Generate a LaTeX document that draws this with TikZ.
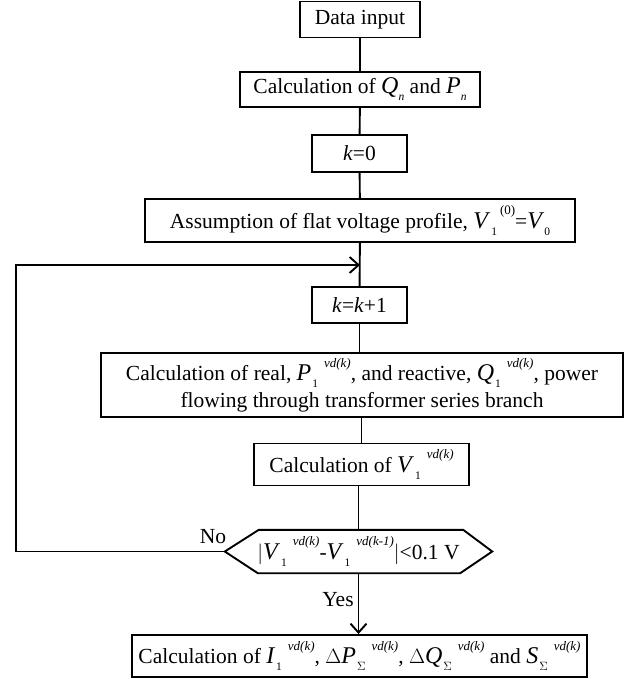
\documentclass[tikz,border=0pt]{standalone}
\usepackage{fontspec}
\setmainfont{Liberation Serif}
\usetikzlibrary{arrows.meta,calc}
\newcommand{\supf}{\fontsize{13}{13}\selectfont}
\newcommand{\subf}{\fontsize{11.5}{11.5}\selectfont}
\newcommand{\mlf}{\fontsize{24}{24}\selectfont}
\newcommand{\vsub}[3]{{\mlf\textit{#1}}\hspace{1pt}\raisebox{-0.7ex}{\subf #2}\hspace{6pt}\raisebox{1.35ex}{\supf\textit{#3}}}
\newcommand{\vsubonly}[2]{{\mlf\textit{#1}}\raisebox{-0.7ex}{\subf #2}}
\begin{document}
\begin{tikzpicture}[x=1pt,y=-1pt,
  font=\fontsize{21.5}{27}\selectfont,
  box/.style={draw,line width=1.9pt,inner sep=0pt,align=center},
  conn/.style={line width=1.9pt},
  arr/.style={line width=1.9pt,-{Straight Barb[length=9pt,width=16pt,line width=1.9pt]}}]
\useasboundingbox (0,0) rectangle (641,679);
\node[box,minimum width=120,minimum height=36] (b1) at (360,19.5) {Data input};
\node[box,minimum width=240,minimum height=35] (b2) at (360,89.5) {Calculation of \vsubonly{Q}{\textit{n}} and \vsubonly{P}{\textit{n}}};
\node[box,minimum width=95,minimum height=37] (b3) at (359.5,153.5) {\textit{k}=0};
\node[box,minimum width=430,minimum height=43] (b4) at (360,220.5) {Assumption of flat voltage profile, {\mlf\textit{V}}\hspace{1pt}\raisebox{-0.7ex}{\subf 1}\hspace{3pt}\raisebox{1.35ex}{\supf (0)}=\vsubonly{V}{0}};
\coordinate (j) at (360,265);
\node[box,minimum width=95,minimum height=36] (b5) at (359.5,305) {\textit{k}=\textit{k}+1};
\node[box,minimum width=522,minimum height=64] (b6) at (362,385) {Calculation of real, \vsub{P}{1}{vd(k)}, and reactive, \vsub{Q}{1}{vd(k)}, power\\flowing through transformer series branch};
\node[box,minimum width=215,minimum height=42] (b7) at (361.5,464.5) {Calculation of \vsub{V}{1}{vd(k)}};
\node[inner sep=0pt,minimum width=267,minimum height=43] (hex) at (358.5,551.5) {$|$\vsub{V}{1}{vd(k)}-\vsub{V}{1}{vd(k-1)}$|$<0.1 V};
\draw[conn,line join=miter] (hex.west) -- ($(hex.north west)+(34,0)$) -- ($(hex.north east)+(-29,0)$) -- (hex.east) -- ($(hex.south east)+(-32,0)$) -- ($(hex.south west)+(33,0)$) -- cycle;
\node[box,minimum width=455,minimum height=42] (b8) at (359.5,656) {Calculation of \vsub{I}{1}{vd(k)}, $\Delta$\vsub{P}{$\Sigma$}{vd(k)}, $\Delta$\vsub{Q}{$\Sigma$}{vd(k)} and \vsub{S}{$\Sigma$}{vd(k)}};
\coordinate (lc) at (16,551.5);
\draw[conn] (b1) -- (b2);
\draw[conn] (b2) -- (b3);
\draw[conn] (b3) -- (b4);
\draw[conn] (b4) -- (b5);
\draw[conn] (b5) -- (b6.north -| b5);
\draw[conn] (b6.south -| b7) -- (b7);
\draw[conn] (b7.south -| hex) -- (hex.north);
\draw[arr] (hex.south) -- (b8.north -| hex);
\draw[arr,line join=miter] (hex.west) -- (lc) |- (j);
\node (no) at (213,537) {No};
\node (yes) at (338,600) {Yes};
\end{tikzpicture}
\end{document}
